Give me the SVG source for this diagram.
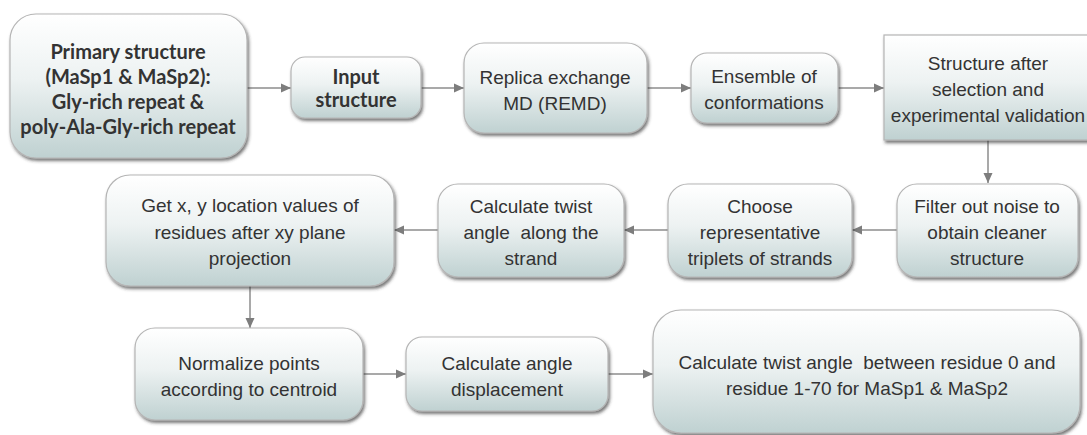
<svg xmlns="http://www.w3.org/2000/svg" width="1087" height="435" viewBox="0 0 1087 435">
<defs>
<linearGradient id="g" x1="0" y1="0" x2="0" y2="1">
<stop offset="0" stop-color="#ffffff"/>
<stop offset="0.45" stop-color="#edf2f2"/>
<stop offset="1" stop-color="#bfd1d1"/>
</linearGradient>
<filter id="sh" x="-10%" y="-10%" width="125%" height="130%">
<feDropShadow dx="1.5" dy="2.5" stdDeviation="1.5" flood-color="#333" flood-opacity="0.65"/>
</filter>
<marker id="ah" viewBox="0 0 10 10" refX="10" refY="5" markerWidth="10" markerHeight="10" markerUnits="userSpaceOnUse" orient="auto">
<path d="M0,0.5 L10,5 L0,9.5 Z" fill="#7d7d7d"/>
</marker>
<style>
.box{fill:url(#g);stroke:#b5b5b5;stroke-width:1.2;filter:url(#sh)}
.t{font-family:"Liberation Sans",Arial,sans-serif;font-size:19px;fill:#333333;text-anchor:middle}
.b{font-family:Lato,"Open Sans",sans-serif;font-weight:bold;font-size:20px;fill:#333333;text-anchor:middle}
.c{stroke:#8c8c8c;stroke-width:1.5;fill:none;marker-end:url(#ah)}
</style>
</defs>
<rect width="1087" height="435" fill="#ffffff"/>
<g id="connectors">
<line class="c" x1="247" y1="88" x2="291" y2="88"/>
<line class="c" x1="421" y1="88" x2="464" y2="88"/>
<line class="c" x1="647" y1="88" x2="691" y2="88"/>
<line class="c" x1="838" y1="88" x2="884" y2="88"/>
<line class="c" x1="988" y1="140" x2="988" y2="183"/>
<line class="c" x1="897" y1="230" x2="852" y2="230"/>
<line class="c" x1="668" y1="230" x2="624" y2="230"/>
<line class="c" x1="438" y1="230" x2="394" y2="230"/>
<line class="c" x1="250" y1="286" x2="250" y2="328"/>
<line class="c" x1="363" y1="374" x2="406" y2="374"/>
<line class="c" x1="608" y1="374" x2="653" y2="374"/>
</g>
<g id="n1">
<rect class="box" x="10" y="14" width="237" height="144" rx="26"/>
<text class="b" x="128" y="59">Primary structure</text>
<text class="b" x="128" y="84">(MaSp1 &amp; MaSp2):</text>
<text class="b" x="128" y="109">Gly-rich repeat &amp;</text>
<text class="b" x="128" y="134">poly-Ala-Gly-rich repeat</text>
</g>
<g id="n2">
<rect class="box" x="291" y="57" width="130" height="61" rx="14"/>
<text class="b" x="356" y="84">Input</text>
<text class="b" x="356" y="107">structure</text>
</g>
<g id="n3">
<rect class="box" x="464" y="43" width="183" height="90" rx="20"/>
<text class="t" x="555" y="84">Replica exchange</text>
<text class="t" x="555" y="110">MD (REMD)</text>
</g>
<g id="n4">
<rect class="box" x="691" y="53" width="147" height="70" rx="16"/>
<text class="t" x="764" y="83">Ensemble of</text>
<text class="t" x="764" y="109">conformations</text>
</g>
<g id="n5">
<rect class="box" x="884" y="35" width="210" height="105"/>
<text class="t" x="988" y="70">Structure after</text>
<text class="t" x="988" y="96">selection and</text>
<text class="t" x="988" y="122">experimental validation</text>
</g>
<g id="n6">
<rect class="box" x="897" y="184" width="181" height="93" rx="20"/>
<text class="t" x="987" y="213">Filter out noise to</text>
<text class="t" x="987" y="239">obtain cleaner</text>
<text class="t" x="987" y="265">structure</text>
</g>
<g id="n7">
<rect class="box" x="668" y="184" width="184" height="93" rx="20"/>
<text class="t" x="760" y="213">Choose</text>
<text class="t" x="760" y="239">representative</text>
<text class="t" x="760" y="265">triplets of strands</text>
</g>
<g id="n8">
<rect class="box" x="438" y="184" width="186" height="93" rx="20"/>
<text class="t" x="531" y="213">Calculate twist</text>
<text class="t" x="531" y="239" xml:space="preserve">angle  along the</text>
<text class="t" x="531" y="265">strand</text>
</g>
<g id="n9">
<rect class="box" x="106" y="175" width="288" height="111" rx="24"/>
<text class="t" x="250" y="212">Get x, y location values of</text>
<text class="t" x="250" y="239">residues after xy plane</text>
<text class="t" x="250" y="265">projection</text>
</g>
<g id="n10">
<rect class="box" x="135" y="328" width="228" height="92" rx="20"/>
<text class="t" x="249" y="370">Normalize points</text>
<text class="t" x="249" y="396">according to centroid</text>
</g>
<g id="n11">
<rect class="box" x="406" y="337" width="202" height="74" rx="16"/>
<text class="t" x="507" y="370">Calculate angle</text>
<text class="t" x="507" y="396">displacement</text>
</g>
<g id="n12">
<rect class="box" x="653" y="310" width="427" height="123" rx="28"/>
<text class="t" x="867" y="369" xml:space="preserve">Calculate twist angle  between residue 0 and</text>
<text class="t" x="867" y="395">residue 1-70 for MaSp1 &amp; MaSp2</text>
</g>
</svg>
